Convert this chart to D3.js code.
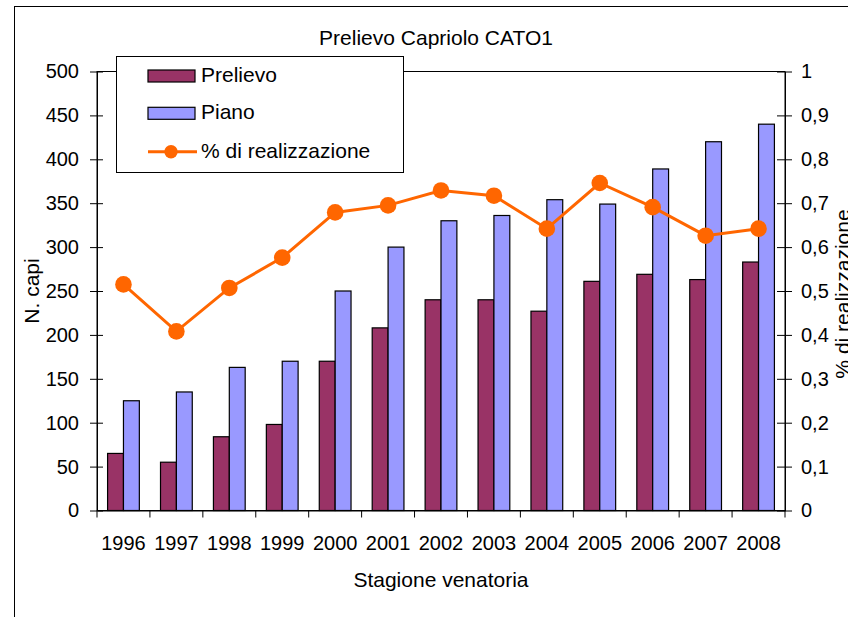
<!DOCTYPE html>
<html>
<head>
<meta charset="utf-8">
<script src="https://cdn.jsdelivr.net/npm/d3@7"></script>
<style>
  body { margin: 0; background: #fff; }
  svg { display: block; }
  text { font-family: "Liberation Sans", Arial, sans-serif; fill: #000; }
</style>
</head>
<body>
<svg id="chart" width="848" height="617"></svg>
<script>
var stagioni = ["1996", "1997", "1998", "1999", "2000", "2001", "2002", "2003", "2004", "2005", "2006", "2007", "2008"];
var prelievo = [65, 55, 84, 98, 170, 208, 240, 240, 227, 261, 269, 263, 283];
var piano = [125, 135, 163, 170, 250, 300, 330, 336, 354, 349, 389, 420, 440];
var realizzazione = [0.515, 0.408, 0.507, 0.576, 0.679, 0.695, 0.729, 0.717, 0.642, 0.746, 0.691, 0.626, 0.642];
var leftTicks = [0, 50, 100, 150, 200, 250, 300, 350, 400, 450, 500];
var rightTicks = [0, 0.1, 0.2, 0.3, 0.4, 0.5, 0.6, 0.7, 0.8, 0.9, 1];

var serie = [
    { name: "Prelievo", values: prelievo, color: "#993366" },
    { name: "Piano", values: piano, color: "#9999FF" }
];
var lineColor = "#FF6600";

var plot = { left: 97, right: 785, top: 71.5, bottom: 510.5 };

var svg = d3.select("#chart");

// cornice esterna del grafico (esce dalla finestra a destra e in basso)
svg.append("rect")
    .attr("x", 14.5).attr("y", 6.5)
    .attr("width", 900).attr("height", 700)
    .attr("fill", "none").attr("stroke", "#000");

var x = d3.scaleBand()
    .domain(stagioni)
    .range([plot.left, plot.right])
    .paddingInner(0.4)
    .paddingOuter(0.2);

var xs = d3.scaleBand()
    .domain(serie.map(function(d) { return d.name; }))
    .range([0, x.bandwidth()]);

var y = d3.scaleLinear().domain([0, 500]).range([plot.bottom, plot.top]);
var y2 = d3.scaleLinear().domain([0, 1]).range([plot.bottom, plot.top]);

// bordo area del tracciato
svg.append("rect")
    .attr("x", plot.left).attr("y", plot.top)
    .attr("width", plot.right - plot.left).attr("height", plot.bottom - plot.top)
    .attr("fill", "none").attr("stroke", "#000");

// barre
var groups = svg.append("g").selectAll("g")
    .data(serie)
    .enter().append("g")
    .attr("fill", function(d) { return d.color; });

groups.selectAll("rect")
    .data(function(s) { return s.values.map(function(v, i) { return { s: s.name, cat: stagioni[i], v: v }; }); })
    .enter().append("rect")
    .attr("x", function(d) { return x(d.cat) + xs(d.s); })
    .attr("y", function(d) { return y(d.v); })
    .attr("width", xs.bandwidth())
    .attr("height", function(d) { return y(0) - y(d.v); })
    .attr("stroke", "#000")
    .attr("stroke-width", 1.2);

// asse sinistro
var axL = svg.append("g")
    .attr("transform", "translate(" + plot.left + ",0)")
    .call(d3.axisLeft(y).tickValues(leftTicks).tickSize(7).tickPadding(11).tickSizeOuter(0));
axL.selectAll(".tick line").attr("x1", 6);
axL.selectAll("text").style("font-size", "20px");

// asse destro
var axR = svg.append("g")
    .attr("transform", "translate(" + plot.right + ",0)")
    .call(d3.axisRight(y2).tickValues(rightTicks).tickSize(7).tickPadding(9).tickSizeOuter(0)
        .tickFormat(function(d) { return d3.format(".1~f")(d).replace(".", ","); }));
axR.selectAll(".tick line").attr("x1", -8);
axR.selectAll("text").style("font-size", "20px");

// asse x
var axB = svg.append("g")
    .attr("transform", "translate(0," + plot.bottom + ")")
    .call(d3.axisBottom(x).tickSize(0).tickPadding(25).tickSizeOuter(0));
axB.selectAll("text").style("font-size", "20px");

var bounds = stagioni.map(function(c) { return x(c) - x.step() * x.paddingOuter(); });
bounds.push(plot.right);
axB.selectAll(".bound")
    .data(bounds)
    .enter().append("line")
    .attr("class", "bound")
    .attr("x1", function(d) { return d; }).attr("x2", function(d) { return d; })
    .attr("y1", 0).attr("y2", 7)
    .attr("stroke", "#000");

svg.selectAll(".domain").attr("stroke", "#000");

// linea % di realizzazione
var line = d3.line()
    .x(function(d, i) { return x(stagioni[i]) + x.bandwidth() / 2; })
    .y(function(d) { return y2(d); });

svg.append("path")
    .datum(realizzazione)
    .attr("d", line)
    .attr("fill", "none")
    .attr("stroke", lineColor)
    .attr("stroke-width", 3);

svg.append("g").selectAll("circle")
    .data(realizzazione)
    .enter().append("circle")
    .attr("cx", function(d, i) { return x(stagioni[i]) + x.bandwidth() / 2; })
    .attr("cy", function(d) { return y2(d); })
    .attr("r", 8.3)
    .attr("fill", lineColor);

// titoli
svg.append("text")
    .attr("x", 436).attr("y", 45)
    .attr("text-anchor", "middle")
    .style("font-size", "21px")
    .text("Prelievo Capriolo CATO1");

svg.append("text")
    .attr("x", (plot.left + plot.right) / 2).attr("y", 587)
    .attr("text-anchor", "middle")
    .style("font-size", "21px")
    .text("Stagione venatoria");

svg.append("text")
    .attr("transform", "translate(39," + (plot.top + plot.bottom) / 2 + ") rotate(-90)")
    .attr("text-anchor", "middle")
    .style("font-size", "21px")
    .text("N. capi");

svg.append("text")
    .attr("transform", "translate(850," + ((plot.top + plot.bottom) / 2 + 3) + ") rotate(-90)")
    .attr("text-anchor", "middle")
    .style("font-size", "21px")
    .text("% di realizzazione");

// legenda
var legend = svg.append("g");
legend.append("rect")
    .attr("x", 116.5).attr("y", 56.5)
    .attr("width", 287).attr("height", 116)
    .attr("fill", "#fff").attr("stroke", "#000");

var legendItems = [
    { name: "Prelievo", type: "bar", color: serie[0].color, y: 76 },
    { name: "Piano", type: "bar", color: serie[1].color, y: 113.3 },
    { name: "% di realizzazione", type: "line", color: lineColor, y: 151.7 }
];

legendItems.forEach(function(it) {
    if (it.type === "bar") {
        legend.append("rect")
            .attr("x", 148).attr("y", it.y - 6)
            .attr("width", 47).attr("height", 12)
            .attr("fill", it.color).attr("stroke", "#000").attr("stroke-width", 1.2);
    } else {
        legend.append("line")
            .attr("x1", 148).attr("x2", 197)
            .attr("y1", it.y).attr("y2", it.y)
            .attr("stroke", it.color).attr("stroke-width", 3);
        legend.append("circle")
            .attr("cx", 171).attr("cy", it.y).attr("r", 6.7)
            .attr("fill", it.color);
    }
    legend.append("text")
        .attr("x", 201).attr("y", it.y + 6)
        .style("font-size", "21px")
        .text(it.name);
});
</script>
</body>
</html>
